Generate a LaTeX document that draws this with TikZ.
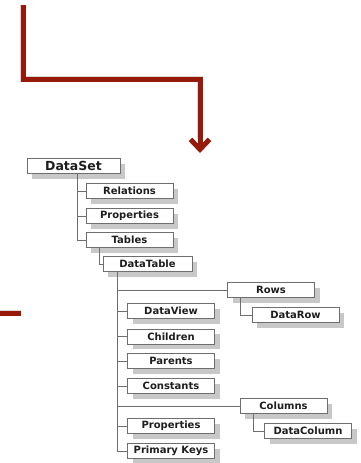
\documentclass[tikz,border=0pt]{standalone}
\usepackage{fontspec}
\setmainfont{DejaVu Sans}
\usetikzlibrary{arrows.meta,shadows}
\definecolor{arrowred}{RGB}{150,25,10}
\definecolor{boxline}{RGB}{110,110,110}
\definecolor{boxshade}{RGB}{200,200,200}
\definecolor{boxtext}{RGB}{30,30,30}
\begin{document}
\begin{tikzpicture}[
        x=1pt, y=-1pt,
        box/.style={rectangle, draw=boxline, fill=white, thin, minimum width=87pt, minimum height=15pt,
            inner sep=0pt, text=boxtext, font=\bfseries\fontsize{10}{12}\selectfont,
            drop shadow={shadow xshift=5pt, shadow yshift=-5pt, fill=boxshade, opacity=1}},
        rootbox/.style={box, minimum width=93pt, font=\bfseries\fontsize{12.5}{14}\selectfont},
        link/.style={draw=boxline, thin},
        branch/.style={xshift=-30.5pt},
        redline/.style={arrowred, line width=5pt},
        redshade/.style={black, opacity=0.15, line width=6pt},
    ]

        \useasboundingbox (0,0) rectangle (360,463);

        \coordinate (top) at (23,5);
        \coordinate (bend) at (23,79);
        \coordinate (tip) at (200,153);
        \coordinate (barL) at (0,313);
        \coordinate (barR) at (21,313);

        % red arrow and bar
        \draw[redshade, shift={(2,3)}] (top) |- (tip |- bend) -- ([yshift=14pt]tip);
        \draw[redshade, shift={(2,3)}] (barL) -- (barR);
        \draw[redline, -{Straight Barb[length=10pt,width=19pt]}] (top) |- (tip |- bend) -- (tip);
        \draw[redline] (barL) -- (barR);

        % tree
        \node[rootbox] (dataset) at (73.5,166) {DataSet};
        \node[box] (relations) at (129.5,191) {Relations};
        \node[box] (properties) at (129.5,216) {Properties};
        \node[box] (tables) at (129.5,240) {Tables};
        \node[box, minimum width=89pt] (datatable) at (147.5,264) {DataTable};
        \node[box] (rows) at (271,290) {Rows};
        \node[box] (datarow) at (295.5,315) {DataRow};
        \node[box] (dataview) at (171,311) {DataView};
        \node[box] (children) at (171,336.5) {Children};
        \node[box] (parents) at (171,361) {Parents};
        \node[box] (constants) at (171,386) {Constants};
        \node[box] (columns) at (283.5,406) {Columns};
        \node[box] (datacolumn) at (308,431) {DataColumn};
        \node[box] (tableprops) at (171,426) {Properties};
        \node[box] (primarykeys) at (171,451) {Primary Keys};

        \foreach \child in {relations,properties,tables} {
            \draw[link] ([xshift=3.5pt]dataset.south) |- (\child.west);
        }
        \draw[link] ([branch]tables.south) |- (datatable.west);
        \foreach \child in {rows,dataview,children,parents,constants,columns,tableprops,primarykeys} {
            \draw[link] ([branch]datatable.south) |- (\child.west);
        }
        \draw[link] ([branch]rows.south) |- (datarow.west);
        \draw[link] ([branch]columns.south) |- (datacolumn.west);
    \end{tikzpicture}
\end{document}
